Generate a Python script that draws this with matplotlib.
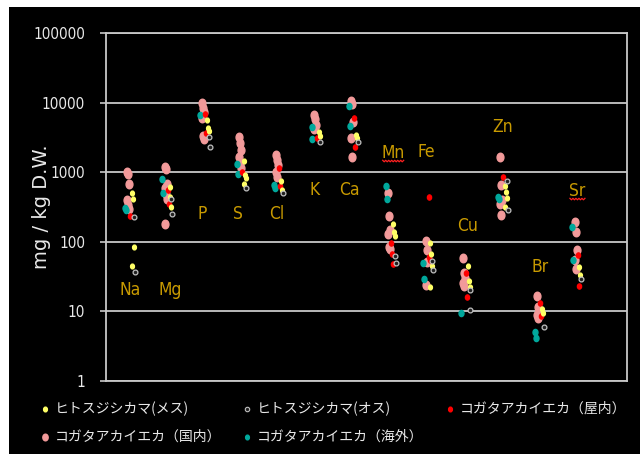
import numpy as np
import matplotlib
matplotlib.use('Agg')
import matplotlib.pyplot as plt
from matplotlib.path import Path
from matplotlib.transforms import Affine2D, IdentityTransform
from matplotlib.lines import Line2D
from matplotlib.patches import Rectangle

elements = ['Na', 'Mg', 'P', 'S', 'Cl', 'K', 'Ca', 'Mn', 'Fe', 'Cu', 'Zn', 'Br', 'Sr']

# mg/kg D.W. per element, one list per group
mesu = [[500, 415, 85, 45], [615, 440, 316], [5600, 4300, 3900], [1450, 910, 830, 680],
        [745, 560], [3800, 3300], [3400, 3100], [180, 138, 121], [96, 66, 45, 22.5],
        [45, 27, 22.5], [640, 520, 425, 320], [10.8, 9.5], [44, 33]]
osu = [[228, 37], [415, 250], [3200, 2300], [590], [510], [2700], [2700], [62, 50],
       [53, 39], [20.3, 10.5], [745, 290], [6.0], [29]]
okunai = [[235], [555, 350], [6900, 3650], [1000], [1140, 640], [3100], [6000, 2300],
          [96, 67, 48], [440, 60, 55], [36, 16], [850], [13.3, 8.6], [64, 23]]
kokunai = [[1000, 950, 680, 400, 340, 300], [1200, 1110, 680, 590, 490, 415, 180],
           [9800, 8500, 7300, 6000, 3300, 3000], [3200, 2640, 2090, 1660, 1350, 1150],
           [1780, 1500, 1250, 1000, 850], [6600, 5800, 4800, 4200],
           [10500, 9500, 5300, 3100, 1660], [500, 235, 148, 130, 85, 80],
           [102, 76, 51, 24], [58, 36, 30, 26, 23], [1660, 650, 400, 350, 245],
           [16.6, 11.6, 10, 9.0, 8.0], [194, 138, 76, 55, 41]]
kaigai = [[310, 290], [800, 500], [6600], [1310, 940], [650, 600], [4450, 3000],
          [8900, 4600], [630, 410], [49, 29], [9.5], [440, 410], [5.0, 4.1], [163, 55]]

series_names = ['ヒトスジシカマ(メス)', 'ヒトスジシカマ(オス)', 'コガタアカイエカ（屋内）',
                'コガタアカイエカ（国内）', 'コガタアカイエカ（海外）']

# where each element name sits (x nudge, y value)
label_dx = [0, 0.08, -0.05, -0.1, -0.05, -0.05, -0.1, 0.07, -0.05, 0.05, 0, 0, 0]
label_y = [20.5, 20.5, 250, 250, 250, 560, 560, 1900, 1950, 170, 4450, 43, 540]

BG = '#000000'; LINE = '#c8c8c8'; TEXT = '#e8e8e8'; GOLD = '#c89a00'
JP = ['Noto Sans CJK JP', 'DejaVu Sans']

oval = Path.unit_circle().transformed(Affine2D().scale(0.8, 1.0))

fig = plt.figure(figsize=(6.4, 4.54), dpi=100)
fig.patch.set_facecolor('white')
fig.add_artist(Rectangle((9 / 640, 0), 1, 1 - 7 / 454, transform=fig.transFigure,
                         facecolor=BG, edgecolor='none', zorder=-10))

ax = fig.add_axes([106 / 640, 1 - 381 / 454, 521 / 640, 348 / 454])
ax.set_facecolor(BG)

x = np.arange(1, len(elements) + 1)

# (data, label, style, x offset); pink first so smaller dots sit on top
styles = [
    (kokunai, series_names[3], dict(marker=oval, s=38, color='#f29a9a', zorder=3), -0.04),
    (kaigai, series_names[4], dict(marker=oval, s=20, color='#00a89c', zorder=4), -0.1),
    (okunai, series_names[2], dict(marker=oval, s=14, color='#ff0000', zorder=5), 0.04),
    (mesu, series_names[0], dict(marker=oval, s=12, color='#ffff66', zorder=6), 0.09),
    (osu, series_names[1], dict(marker='o', s=12, facecolor='#202020',
                                edgecolor='#c0c0c0', linewidths=0.9, zorder=7), 0.14),
]
for data, name, kw, dx in styles:
    xs, ys = [], []
    for i, vals in enumerate(data):
        for k, v in enumerate(vals):
            xs.append(x[i] + dx + 0.025 * ((k % 3) - 1))
            ys.append(v)
    ax.scatter(xs, ys, label=name, **kw)

ax.set_yscale('log')
ax.set_ylim(1, 100000)
ax.set_xlim(0.36, 14.34)
ax.set_xticks([])
ax.set_yticks([1, 10, 100, 1000, 10000, 100000])
ax.set_yticklabels(['1', '10', '100', '1000', '10000', '100000'])
ax.yaxis.set_minor_locator(matplotlib.ticker.NullLocator())
ax.tick_params(axis='y', colors=LINE, length=4, width=1.2, pad=11, labelcolor=TEXT,
               labelsize=11)
for lab in ax.get_yticklabels():
    lab.set_fontstretch('condensed')
ax.grid(axis='y', color=LINE, linewidth=1.3)
ax.set_axisbelow(True)
for sp in ax.spines.values():
    sp.set_color(LINE)
    sp.set_linewidth(1.3)

ax.set_ylabel('mg / kg D.W.', color=TEXT, fontsize=14, va='center')
ax.yaxis.set_label_coords(-0.123, 0.5)

texts = []
for i, el in enumerate(elements):
    t = ax.text(x[i] + label_dx[i], label_y[i], el, ha='center', va='center',
                color=GOLD, fontsize=12.5, fontstretch='condensed', zorder=8)
    texts.append(t)

# legend laid out by hand: two rows, three columns
leg_colors = ['#ffff66', None, '#ff0000', '#f29a9a', '#00a89c']
leg_cols = [45, 247, 450, 45, 247]
leg_rows = [409, 409, 409, 437, 437]
for name, c, px, py in zip(series_names, leg_colors, leg_cols, leg_rows):
    fx, fy = px / 640, 1 - py / 454
    if c is None:
        fig.add_artist(Line2D([fx], [fy], transform=fig.transFigure, linestyle='none',
                              marker='o', markersize=3.2, markerfacecolor='#202020',
                              markeredgecolor='#c0c0c0', markeredgewidth=0.8))
    else:
        ms = 4.8 if c == '#f29a9a' else 3.4
        fig.add_artist(Line2D([fx], [fy], transform=fig.transFigure, linestyle='none',
                              marker=oval, markersize=ms, markerfacecolor=c,
                              markeredgecolor=c))
    fig.text(fx + 10 / 640, fy, name, color=TEXT, fontsize=10, family=JP,
             ha='left', va='center')

# red squiggle under Mn and Sr
fig.canvas.draw()
renderer = fig.canvas.get_renderer()
for el in ('Mn', 'Sr'):
    bb = texts[elements.index(el)].get_window_extent(renderer)
    px = np.arange(bb.x0 + 1, bb.x1, 1.5)
    py = bb.y0 + 1.5 + np.where(np.arange(len(px)) % 2 == 0, 0, -1.5)
    fig.add_artist(Line2D(px, py, transform=IdentityTransform(), color='#ff2020',
                          linewidth=0.9, zorder=20))

fig.savefig('out.png', dpi=100, facecolor=fig.get_facecolor())
